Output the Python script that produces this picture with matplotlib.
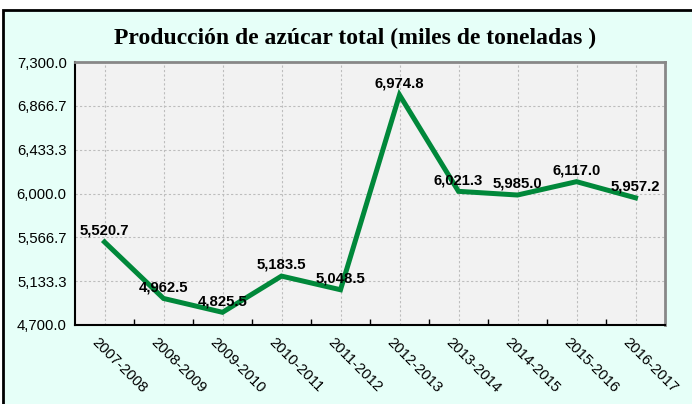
import numpy as np
import matplotlib.pyplot as plt
from matplotlib.patches import Rectangle
from matplotlib.transforms import ScaledTranslation

seasons = ['2007-2008', '2008-2009', '2009-2010', '2010-2011', '2011-2012',
           '2012-2013', '2013-2014', '2014-2015', '2015-2016', '2016-2017']
production = [5520.7, 4962.5, 4825.5, 5183.5, 5048.5, 6974.8, 6021.3, 5985.0, 6117.0, 5957.2]
y_ticks = np.linspace(4700, 7300, 7)

W, H = 692, 404
fig = plt.figure(figsize=(W / 100, H / 100), dpi=100, facecolor='white')

# cyan panel with black frame (partly off-canvas on right/bottom)
fig.patches.append(Rectangle((3 / W, -0.05), 1.1, 1 - 10 / H + 0.05, transform=fig.transFigure,
                             facecolor='#e6fff8', edgecolor='black', linewidth=2, zorder=-10))

ax = fig.add_axes([75 / W, 1 - 325 / H, (665 - 75) / W, (325 - 62) / H])
ax.set_zorder(5)
ax.set_facecolor('#f2f2f2')

x = np.arange(len(seasons))
ax.plot(x, production, color='#00883a', linewidth=3.6, solid_joinstyle='miter', zorder=3)
for xi, v in zip(x, production):
    ax.annotate(f'{v:,.1f}', (xi, v), xytext=(0, 3), textcoords='offset points',
                ha='center', va='bottom', fontsize=10.7, fontweight='bold',
                family='Liberation Sans', zorder=4)

ax.set_xlim(-0.5, len(seasons) - 0.5)
ax.set_ylim(4700, 7300)
ax.set_xticks(x)
ax.set_xticklabels(seasons, rotation=-45, ha='left', va='top', rotation_mode='anchor',
                   family='Liberation Sans', fontsize=10.7)
ax.set_xticks(x[:-1] + 0.5, minor=True)
ax.tick_params(axis='x', which='major', length=0, pad=7)
ax.tick_params(axis='x', which='minor', direction='in', length=4, width=1, color='black')
ax.set_yticks(y_ticks)
ax.set_yticklabels([f'{t:,.1f}' for t in y_ticks], family='Liberation Sans', fontsize=10.7)
ax.tick_params(axis='y', length=0, pad=6)

# nudge rotated season labels a little to the left
shift = ScaledTranslation(-5 / 100, 0, fig.dpi_scale_trans)
for lab in ax.get_xticklabels():
    lab.set_transform(lab.get_transform() + shift)

ax.grid(True, which='major', linestyle=(0, (2, 2)), color='#bdbdbd', linewidth=0.8)
ax.set_axisbelow(True)

for side in ['left', 'bottom']:
    ax.spines[side].set_color('black')
    ax.spines[side].set_linewidth(1.5)
for side in ['top', 'right']:
    ax.spines[side].set_color('#888888')
    ax.spines[side].set_linewidth(2)

fig.text(355 / W, 1 - 38 / H, 'Producción de azúcar total (miles de toneladas )',
         ha='center', va='center', fontsize=17, fontweight='bold', family='Liberation Serif')

fig.savefig('out.png', dpi=100, facecolor=fig.get_facecolor())
